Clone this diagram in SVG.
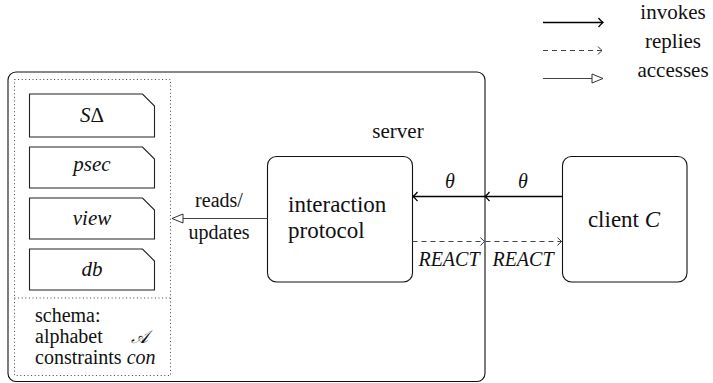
<svg xmlns="http://www.w3.org/2000/svg" width="713" height="383" viewBox="0 0 713 383">
<defs>
<style>
text, tspan{font-family:'Liberation Serif','Times New Roman',Tinos,'Noto Serif','DejaVu Serif',serif;}
.lbl{font-size:21px;}
.big{font-size:23px;}
.sm{font-size:20px;}
.it{font-style:italic;}
.box{fill:#fff;stroke:#111;stroke-width:1.1;}
.doc{fill:#fff;stroke:#222;stroke-width:1.1;}
.dot{fill:none;stroke:#444;stroke-width:1;stroke-dasharray:1 2.6;}
.inv{fill:none;stroke:#000;stroke-width:1.7;}
.rep{fill:none;stroke:#444;stroke-width:1.1;stroke-dasharray:5 4;}
.acc{fill:none;stroke:#444;stroke-width:1.1;}
</style>
<marker id="to" markerUnits="userSpaceOnUse" markerWidth="12" markerHeight="12" viewBox="-6 -6 12 12" refX="0" refY="0" orient="auto">
<path d="M -4.5 -4.5 Q -1.2 -0.8 0 0 Q -1.2 0.8 -4.5 4.5" fill="none" stroke="#000" stroke-width="1.3"/>
</marker>
<marker id="tod" markerUnits="userSpaceOnUse" markerWidth="12" markerHeight="12" viewBox="-6 -6 12 12" refX="0" refY="0" orient="auto">
<path d="M -4 -4 Q -1 -0.7 0 0 Q -1 0.7 -4 4" fill="none" stroke="#333" stroke-width="1"/>
</marker>
<marker id="tri" markerUnits="userSpaceOnUse" markerWidth="14" markerHeight="12" viewBox="-12 -6 14 12" refX="0" refY="0" orient="auto">
<path d="M -11 -4.5 L 0 0 L -11 4.5 Z" fill="#fff" stroke="#333" stroke-width="1"/>
</marker>
</defs>
<g fill="#111">
<g id="server">
<rect class="box" x="8" y="72" width="477" height="309.5" rx="8" ry="8" style="fill:none"/>
<text class="lbl" x="398" y="138" text-anchor="middle">server</text>
</g>

<g id="state">
<rect class="dot" x="14.5" y="79.5" width="156" height="296"/>
<line class="dot" x1="14.5" y1="298" x2="170.5" y2="298"/>
</g>

<g id="doc-sdelta">
<path class="doc" d="M 29.5 94 H 142.5 L 154.5 106 V 137 H 29.5 Z"/>
<text class="lbl" x="92" y="122" text-anchor="middle"><tspan class="it">S</tspan>Δ</text>
</g>
<g id="doc-psec">
<path class="doc" d="M 29.5 147 H 142.5 L 154.5 159 V 188 H 29.5 Z"/>
<text class="lbl it" x="92" y="171" text-anchor="middle">psec</text>
</g>
<g id="doc-view">
<path class="doc" d="M 29.5 198 H 142.5 L 154.5 210 V 239 H 29.5 Z"/>
<text class="lbl it" x="92" y="225" text-anchor="middle">view</text>
</g>
<g id="doc-db">
<path class="doc" d="M 29.5 249 H 142.5 L 154.5 261 V 290 H 29.5 Z"/>
<text class="lbl it" x="92" y="276" text-anchor="middle">db</text>
</g>

<g id="schema">
<text class="sm" x="35" y="322">schema:</text>
<text class="sm" x="35" y="343">alphabet</text>
<text class="it" font-size="18" x="131" y="343">𝒜</text>
<text class="sm" x="35" y="364">constraints <tspan class="it">con</tspan></text>
</g>

<g id="interaction">
<rect class="box" x="267.5" y="156.5" width="145" height="125.5" rx="9" ry="9"/>
<text class="big" x="288" y="212">interaction</text>
<text class="big" x="288" y="238">protocol</text>
</g>

<g id="client">
<rect class="box" x="562.5" y="156.5" width="124.5" height="125.5" rx="9" ry="9"/>
<text class="big" x="624" y="227" text-anchor="middle">client <tspan class="it">C</tspan></text>
</g>

<g id="connectors">
<line class="acc" x1="267.5" y1="218.5" x2="172" y2="218.5" marker-end="url(#tri)"/>
<line class="inv" x1="562.5" y1="196.5" x2="485" y2="196.5" marker-end="url(#to)"/>
<line class="inv" x1="485" y1="196.5" x2="413" y2="196.5" marker-end="url(#to)"/>
<line class="rep" x1="412.5" y1="241.5" x2="484.5" y2="241.5" marker-end="url(#tod)"/>
<line class="rep" x1="485.5" y1="241.5" x2="561.5" y2="241.5" marker-end="url(#tod)"/>
</g>

<g id="labels">
<text class="sm" x="219" y="207" text-anchor="middle">reads/</text>
<text class="sm" x="219" y="239" text-anchor="middle">updates</text>
<text class="sm it" x="450" y="188" text-anchor="middle">θ</text>
<text class="sm it" x="523" y="188" text-anchor="middle">θ</text>
<text class="sm it" x="449" y="266" text-anchor="middle">REACT</text>
<text class="sm it" x="523" y="266" text-anchor="middle">REACT</text>
</g>

<g id="legend">
<line class="inv" x1="543" y1="22.5" x2="603" y2="22.5" marker-end="url(#to)"/>
<line class="rep" x1="543" y1="50.5" x2="602" y2="50.5" marker-end="url(#tod)"/>
<line class="acc" x1="543" y1="78.5" x2="603" y2="78.5" marker-end="url(#tri)"/>
<text class="lbl" x="673" y="19" text-anchor="middle">invokes</text>
<text class="lbl" x="673" y="48" text-anchor="middle">replies</text>
<text class="lbl" x="673" y="77" text-anchor="middle">accesses</text>
</g>
</g>
</svg>
